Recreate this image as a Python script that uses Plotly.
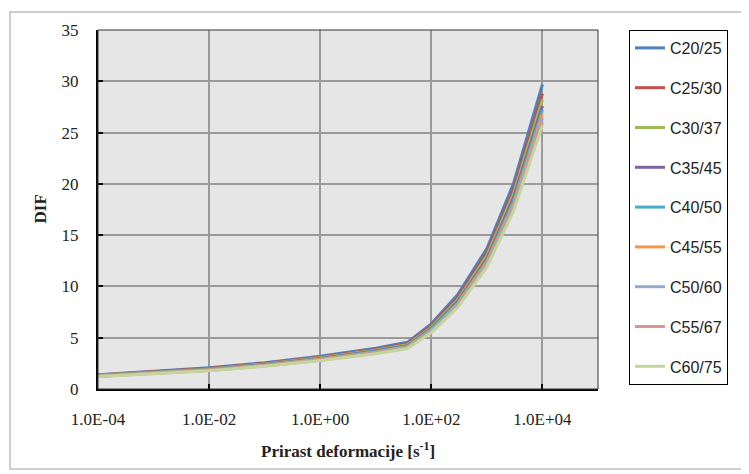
import plotly.graph_objects as go

# strain rate points [1/s]
strain_rate = [1e-4, 1e-3, 1e-2, 1e-1, 1, 10, 37, 100, 300, 1000, 3000, 10000]

# DIF per concrete class
dif_c20 = [1.40, 1.70, 2.07, 2.57, 3.20, 3.98, 4.55, 6.35, 9.20, 13.7, 20.0, 29.7]
dif_c25 = [1.36, 1.65, 2.01, 2.49, 3.10, 3.86, 4.41, 6.16, 8.92, 13.3, 19.4, 28.8]
dif_c30 = [1.33, 1.61, 1.96, 2.44, 3.04, 3.78, 4.32, 6.03, 8.73, 13.0, 19.0, 28.2]
dif_c35 = [1.30, 1.58, 1.92, 2.39, 2.97, 3.70, 4.23, 5.90, 8.55, 12.7, 18.6, 27.6]
dif_c40 = [1.28, 1.56, 1.90, 2.35, 2.93, 3.65, 4.17, 5.82, 8.43, 12.5, 18.3, 27.2]
dif_c45 = [1.26, 1.53, 1.87, 2.32, 2.89, 3.59, 4.10, 5.73, 8.30, 12.4, 18.0, 26.8]
dif_c50 = [1.24, 1.51, 1.84, 2.28, 2.84, 3.54, 4.04, 5.65, 8.18, 12.2, 17.8, 26.4]
dif_c55 = [1.23, 1.49, 1.81, 2.25, 2.80, 3.48, 3.98, 5.56, 8.05, 12.0, 17.5, 26.0]
dif_c60 = [1.21, 1.47, 1.79, 2.22, 2.77, 3.44, 3.94, 5.49, 7.96, 11.9, 17.3, 25.7]

classes = ["C20/25", "C25/30", "C30/37", "C35/45", "C40/50",
           "C45/55", "C50/60", "C55/67", "C60/75"]
series = [dif_c20, dif_c25, dif_c30, dif_c35, dif_c40,
          dif_c45, dif_c50, dif_c55, dif_c60]
colors = ["#4F81BD", "#C0504D", "#9BBB59", "#8064A2", "#4BACC6",
          "#F79646", "#95A9CC", "#D99694", "#C3D69B"]

x_tickvals = [1e-4, 1e-2, 1, 1e2, 1e4]
x_ticktext = ["1.0E-04", "1.0E-02", "1.0E+00", "1.0E+02", "1.0E+04"]

serif = "Liberation Serif, Times New Roman, serif"

fig = go.Figure()

for name, vals, col in zip(classes, series, colors):
    fig.add_trace(go.Scatter(
        x=strain_rate,
        y=vals,
        mode="lines",
        name=name,
        legendgroup=name,
        line=dict(color=col, width=3)
    ))

# page body has an 8px default margin, so the figure is 8px smaller
fig.update_layout(
    width=741,
    height=466,
    margin=dict(l=90, r=151, t=22, b=85, autoexpand=False),
    paper_bgcolor="white",
    plot_bgcolor="#E6E6E6",
    showlegend=True,
    legend=dict(
        x=1.062, y=1.0, xanchor="left", yanchor="top",
        bordercolor="black", borderwidth=1, bgcolor="white",
        font=dict(family="Liberation Sans, Arial, sans-serif", size=16, color="#222"),
        tracegroupgap=16,
        itemwidth=30
    ),
    xaxis=dict(
        type="log",
        range=[-4, 5],
        tickvals=x_tickvals,
        ticktext=x_ticktext,
        showgrid=True, gridcolor="#9A9A9A", gridwidth=1.5,
        showline=True, linecolor="black", linewidth=2,
        ticks="inside", ticklen=5, tickcolor="black", tickwidth=2,
        ticklabelstandoff=14,
        tickfont=dict(family=serif, size=17, color="#222"),
        zeroline=False, automargin=False
    ),
    yaxis=dict(
        range=[0, 35],
        dtick=5,
        showgrid=True, gridcolor="#9A9A9A", gridwidth=1.5,
        showline=True, linecolor="black", linewidth=2,
        ticks="inside", ticklen=5, tickcolor="black", tickwidth=2,
        ticklabelstandoff=14,
        tickfont=dict(family=serif, size=17, color="#222"),
        zeroline=False, automargin=False
    ),
    annotations=[
        dict(text="<b>Prirast deformacije [s<sup>-1</sup>]</b>",
             xref="paper", yref="paper", x=0.5, y=-0.17,
             xanchor="center", yanchor="middle", showarrow=False,
             font=dict(family=serif, size=17, color="#222")),
        dict(text="<b>DIF</b>",
             xref="paper", yref="paper", x=-0.116, y=0.5,
             xanchor="center", yanchor="middle", showarrow=False, textangle=-90,
             font=dict(family=serif, size=17, color="#222"))
    ],
    shapes=[
        # plot area frame (top/right thin)
        dict(type="rect", xref="paper", yref="paper", x0=0, y0=0, x1=1, y1=1,
             line=dict(color="#333", width=1), layer="above"),
        # outer chart border
        dict(type="rect", xref="paper", yref="paper",
             x0=-0.176, y0=-0.223, x1=1.294, y1=1.05,
             line=dict(color="#BFBFBF", width=1.5))
    ]
)

fig.write_html("out.html")
